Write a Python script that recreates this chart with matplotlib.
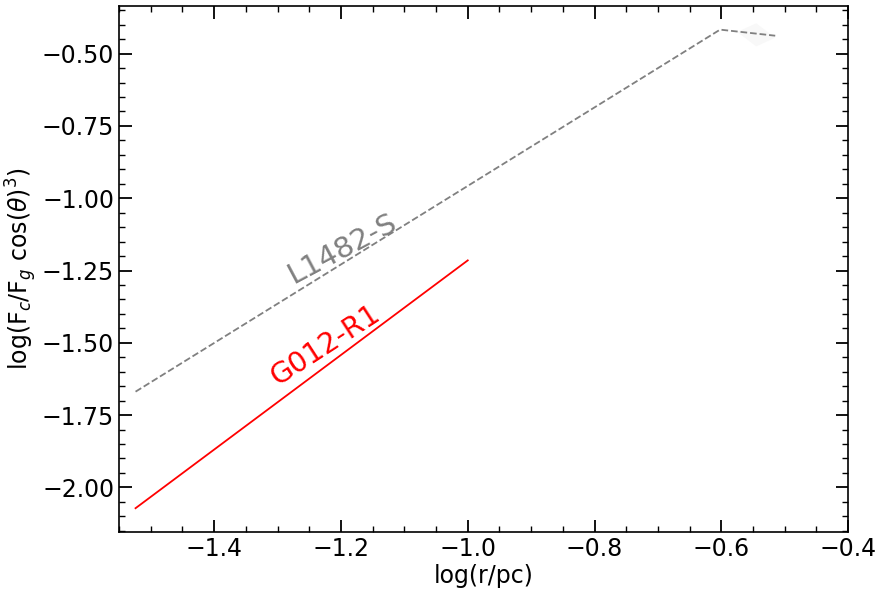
import numpy as np
import matplotlib
matplotlib.use('Agg')
import matplotlib.pyplot as plt
from matplotlib.ticker import MultipleLocator
from matplotlib.patches import Polygon

# Lines (log r/pc, log(Fc/Fg cos^3))
l1482_x = [-1.524, -0.602, -0.515]
l1482_y = [-1.669, -0.417, -0.438]
g012_x = [-1.524, -1.0]
g012_y = [-2.072, -1.215]

fig = plt.figure(figsize=(8.78, 5.92), dpi=100)
ax = fig.add_axes([0.1356, 0.101, 0.8304, 0.889])

ax.plot(l1482_x, l1482_y, ls='--', color='gray', lw=1.3)
ax.plot(g012_x, g012_y, ls='-', color='red', lw=1.3)

# faint rotated box near the upper right (barely visible in the original)
ax.add_patch(Polygon([[-0.575, -0.425], [-0.545, -0.395], [-0.515, -0.445], [-0.545, -0.475]],
                     closed=True, color='#f8f8f8', zorder=0, lw=0))

ax.text(-1.193, -1.200, 'L1482-S', color='gray', fontsize=21, rotation=28,
        ha='center', va='baseline', rotation_mode='anchor')
ax.text(-1.218, -1.532, 'G012-R1', color='red', fontsize=20.5, rotation=33,
        ha='center', va='baseline', rotation_mode='anchor')

ax.set_xlim(-1.55, -0.4)
ax.set_ylim(-2.155, -0.335)
ax.xaxis.set_major_locator(MultipleLocator(0.2))
ax.xaxis.set_minor_locator(MultipleLocator(0.05))
ax.yaxis.set_major_locator(MultipleLocator(0.25))
ax.yaxis.set_minor_locator(MultipleLocator(0.05))
ax.tick_params(which='both', direction='in', top=True, right=True, labelsize=17)
ax.tick_params(which='major', length=9, width=1.3)
ax.tick_params(which='minor', length=4.5, width=1)
for s in ax.spines.values():
    s.set_linewidth(1.2)

ax.set_xlabel('log(r/pc)', fontsize=17, labelpad=2)
ax.set_ylabel(r'log(F$_c$/F$_g$ cos($\theta$)$^3$)', fontsize=17, labelpad=2)

fig.savefig('out.png', dpi=100)
